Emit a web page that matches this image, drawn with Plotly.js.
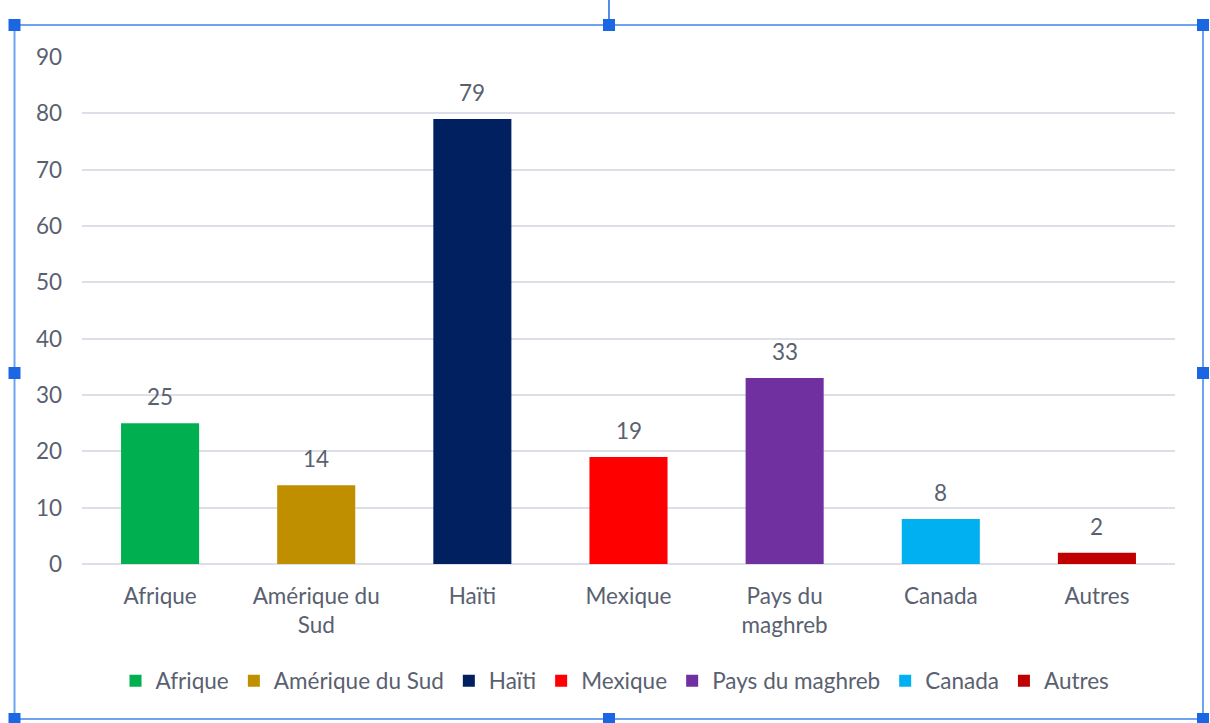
<!DOCTYPE html>
<html>
<head>
<meta charset="utf-8">
<script src="https://cdn.plot.ly/plotly-3.0.1.min.js"></script>
<style>
html,body{margin:0;padding:0;background:#fff;}
#chart{width:1210px;height:723px;}
</style>
</head>
<body>
<div id="chart"></div>
<script>
// ---- data ----
const categories = ["Afrique", "Amérique du Sud", "Haïti", "Mexique", "Pays du maghreb", "Canada", "Autres"];
const tickLabels = ["Afrique", "Amérique du<br>Sud", "Haïti", "Mexique", "Pays du<br>maghreb", "Canada", "Autres"];
const values = [25, 14, 79, 19, 33, 8, 2];
const colors = ["#00b050", "#bf8f00", "#002060", "#ff0000", "#7030a0", "#00b0f0", "#c00000"];

// ---- geometry ----
const W = 1210, H = 723;
const M = {l: 82, r: 35, t: 57, b: 159};
const PW = W - M.l - M.r, PH = H - M.t - M.b;
const px = x => (x - M.l) / PW;          // pixel -> paper x
const py = y => (H - M.b - y) / PH;      // pixel -> paper y

const txtColor = "#596170";
const fontFam = "Lato, 'Open Sans', sans-serif";
const fs = 22.5;

const traces = categories.map((c, i) => ({
  type: "bar",
  name: c,
  x: [c],
  y: [values[i]],
  width: 0.5,
  marker: {color: colors[i]},
  hoverinfo: "x+y"
}));

const annotations = categories.map((c, i) => ({
  x: c, y: values[i], xref: "x", yref: "y",
  text: String(values[i]), showarrow: false,
  yanchor: "bottom", yshift: 11,
  font: {family: fontFam, size: fs, color: txtColor}
}));

// selection frame (decorative, pixel based)
const frameColor = "#6ea3f0";
const handleColor = "#1a66e3";
const fL = 14.5, fT = 25, fR = 1203, fB = 719, hs = 6;
const shapes = [
  {type: "rect", xref: "paper", yref: "paper", x0: px(fL), x1: px(fR), y0: py(fB), y1: py(fT),
   line: {color: frameColor, width: 2}, fillcolor: "rgba(0,0,0,0)", layer: "above"},
  {type: "line", xref: "paper", yref: "paper", x0: px(609), x1: px(609), y0: py(0), y1: py(fT),
   line: {color: handleColor, width: 1.5}, layer: "above"}
];
const handles = [[fL, fT], [609, fT], [fR, fT], [fL, 373], [fR, 373], [fL, fB], [609, fB], [fR, fB]];
handles.forEach(([hx, hy]) => shapes.push({
  type: "rect", xref: "paper", yref: "paper",
  x0: px(hx - hs), x1: px(hx + hs), y0: py(hy + hs), y1: py(hy - hs),
  line: {width: 0}, fillcolor: handleColor, layer: "above"
}));

const layout = {
  width: W, height: H,
  margin: M,
  paper_bgcolor: "#ffffff", plot_bgcolor: "#ffffff",
  barmode: "overlay",
  showlegend: true,
  font: {family: fontFam, size: fs, color: txtColor},
  xaxis: {
    type: "category",
    tickvals: categories, ticktext: tickLabels,
    showgrid: false, zeroline: false,
    showline: false, ticks: "",
    ticklabelstandoff: 16,
    tickfont: {family: fontFam, size: fs, color: txtColor},
    fixedrange: true
  },
  yaxis: {
    range: [0, 90], dtick: 10,
    showgrid: true, gridcolor: "#dcdfe7", gridwidth: 2,
    zeroline: true, zerolinecolor: "#dcdfe7", zerolinewidth: 2,
    showline: false, ticks: "",
    ticklabelstandoff: 19,
    tickfont: {family: fontFam, size: fs, color: txtColor},
    fixedrange: true
  },
  legend: {
    orientation: "h",
    x: px(615), xanchor: "center",
    y: py(681), yanchor: "middle",
    font: {family: fontFam, size: fs, color: txtColor},
    itemwidth: 30,
    traceorder: "normal",
    bgcolor: "rgba(0,0,0,0)"
  },
  annotations: annotations,
  shapes: shapes
};

Plotly.newPlot("chart", traces, layout, {displayModeBar: false, responsive: false});
</script>
</body>
</html>
